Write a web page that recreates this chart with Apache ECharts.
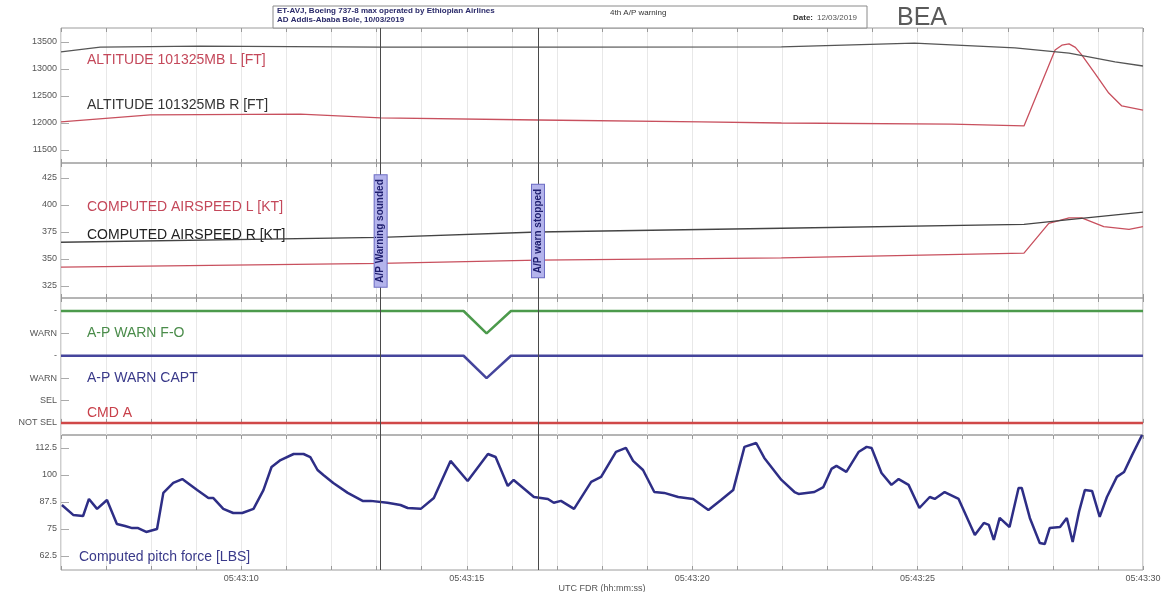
<!DOCTYPE html>
<html>
<head>
<meta charset="utf-8">
<title>ET-AVJ 4th A/P warning</title>
<script src="https://cdn.jsdelivr.net/npm/echarts@6/dist/echarts.min.js"></script>
<style>
    html, body { margin: 0; padding: 0; background: #fff; }
    #fdrCharts { width: 1164px; height: 592px; }
</style>
</head>
<body>
<div id="fdrCharts"></div>
<script>
    // time = seconds after 05:43:00 UTC
    const altLTime = [6, 7.98, 11.31, 13.09, 16.58, 20.2, 21.98, 25.76, 27.36, 28.05, 28.2, 28.36, 28.5, 28.64, 28.93, 29.24, 29.53, 30]
    const altL = [12020, 12150, 12165, 12095, 12055, 12020, 12000, 11980, 11945, 13350, 13440, 13465, 13400, 13260, 12925, 12555, 12315, 12240]
    const altRTime = [6, 6.87, 9.09, 13.09, 16.58, 21.98, 24.93, 27.16, 28.36, 29.38, 30]
    const altR = [13315, 13405, 13425, 13405, 13405, 13410, 13480, 13390, 13295, 13130, 13055]

    const casLTime = [6, 13.09, 16.58, 21.98, 27.36, 27.91, 28.36, 28.64, 29.13, 29.69, 30]
    const casL = [342.5, 346, 349, 351, 355.5, 383, 388, 388, 380, 377.5, 380]
    const casRTime = [6, 13.09, 16.58, 21.98, 27.36, 28.36, 30]
    const casR = [365.5, 370, 375, 378.5, 382, 386.5, 393.5]

    const warnTime = [6, 14.93, 15.44, 15.98, 30]
    const warnFO = [5, 5, 4, 5, 5]
    const warnCapt = [3, 3, 2, 3, 3]
    const cmdA = [0, 0, 0, 0, 0]

    const pitchTime = [6.02, 6.27, 6.49, 6.62, 6.8, 7.02, 7.24, 7.42, 7.58, 7.71, 7.89, 8.13, 8.27, 8.49, 8.69, 9.02, 9.27, 9.38, 9.6, 9.82,
        10.02, 10.27, 10.49, 10.67, 10.87, 11.16, 11.38, 11.53, 11.69, 11.82, 12.04, 12.36, 12.69, 12.87, 13.24, 13.53, 13.69, 13.98, 14.27, 14.64,
        15.02, 15.47, 15.64, 15.91, 16.04, 16.49, 16.8, 16.93, 17.09, 17.38, 17.76, 17.98, 18.31, 18.53, 18.69, 18.91, 19.16, 19.38, 19.69, 20.02,
        20.36, 20.64, 20.91, 21.16, 21.42, 21.6, 21.98, 22.27, 22.36, 22.71, 22.91, 23.09, 23.2, 23.42, 23.69, 23.87, 23.98, 24.2, 24.42, 24.58,
        24.8, 25.04, 25.27, 25.38, 25.6, 25.91, 26.27, 26.47, 26.58, 26.69, 26.82, 27.04, 27.24, 27.31, 27.49, 27.71, 27.82, 27.93, 28.16, 28.31,
        28.44, 28.58, 28.71, 28.87, 29.04, 29.2, 29.42, 29.58, 29.76, 29.98]
    const pitchForce = [86.1, 81.5, 81, 88.9, 84.3, 88.4, 77.3, 76.4, 75.4, 75.4, 73.6, 75, 91.7, 96.3, 98.1, 93, 89.3, 89.3, 84.3, 82.4,
        82.4, 84.3, 93, 103.7, 106.9, 109.7, 109.7, 108.3, 102.3, 100, 96.3, 91.7, 88, 88, 87.1, 86.1, 84.7, 84.3, 89.3, 106.5,
        97.2, 109.7, 108.3, 94.9, 97.7, 89.8, 88.9, 87.1, 88, 84.3, 96.8, 99.1, 110.7, 112.5, 106.5, 102.3, 92.1, 91.7, 89.8, 88.9,
        83.8, 88.4, 93, 113, 114.8, 107.9, 97.7, 92.1, 91.2, 92.1, 94.4, 102.8, 104.2, 101.4, 110.6, 113, 112.5, 100.9, 95.4, 98.1,
        95.4, 84.7, 89.8, 88.9, 92.1, 88.9, 72.2, 77.8, 76.9, 69.9, 80.1, 75.9, 94, 94, 80.1, 68.5, 68, 75.4, 75.9, 80.1,
        69, 82.9, 93, 92.6, 80.6, 89.8, 99.1, 101.4, 109.3, 118.5]

    const apWarnStart = 13.09
    const apWarnStop = 16.58

    const altTicks = [11500, 12000, 12500, 13000, 13500]
    const casTicks = [325, 350, 375, 400, 425]
    const discTicks = [0, 1, 2, 3, 4, 5]
    const discLabels = ['NOT SEL', 'SEL', 'WARN', '-', 'WARN', '-']
    const pitchTicks = [62.5, 75, 87.5, 100, 112.5]

    const zip = (t, v) => t.map((x, i) => [x, v[i]])
    const pad = n => (n < 10 ? '0' : '') + n
    const FONT = 'Liberation Sans'

    const grids = [
        {top: 28, height: 135},
        {top: 163, height: 135},
        {top: 298, height: 137},
        {top: 435, height: 135},
    ].map(g => Object.assign({
        left: 61, right: 21, show: true, borderColor: '#9c9c9c', borderWidth: 1, outerBoundsMode: 'none'
    }, g))

    const xAxes = []
    for (let i = 0; i < 4; i++) {
        xAxes.push({
            gridIndex: i, type: 'value', min: 6, max: 30, interval: 1,
            axisLine: {show: false},
            axisTick: {show: true, inside: true, length: 4, lineStyle: {color: '#999'}},
            splitLine: {show: true, lineStyle: {color: '#e8e8e8'}},
            axisLabel: {
                show: i === 3, fontFamily: FONT, fontSize: 9, color: '#555', margin: 4,
                showMaxLabel: true,
                formatter: v => (v % 5 === 0 && v >= 10) ? '05:43:' + pad(v) : ''
            },
            name: i === 3 ? 'UTC FDR (hh:mm:ss)' : '',
            nameLocation: 'middle', nameGap: 14,
            nameTextStyle: {fontFamily: FONT, fontSize: 9, color: '#555'}
        })
    }
    // ticks along the top edge of each panel
    for (let i = 0; i < 4; i++) {
        xAxes.push({
            gridIndex: i, type: 'value', position: 'top', min: 6, max: 30, interval: 1,
            axisLine: {show: false}, splitLine: {show: false}, axisLabel: {show: false},
            axisTick: {show: true, inside: true, length: 4, lineStyle: {color: '#999'}}
        })
    }

    const yAxis = (idx, min, max, ticks, fmt) => ({
        gridIndex: idx, type: 'value', min: min, max: max,
        axisLine: {show: false}, splitLine: {show: false},
        axisTick: {show: true, inside: true, length: 8, customValues: ticks, lineStyle: {color: '#aaa'}},
        axisLabel: {
            customValues: ticks, fontFamily: FONT, fontSize: 9, color: '#555', margin: 4,
            formatter: fmt || (v => String(v))
        }
    })

    const eventLines = {
        silent: true, symbol: 'none', animation: false,
        label: {show: false},
        lineStyle: {color: '#4a4a4a', width: 1, type: 'solid'},
        data: [{xAxis: apWarnStart}, {xAxis: apWarnStop}]
    }

    const line = (name, xi, data, color, width, withEvents) => ({
        name: name, type: 'line', xAxisIndex: xi, yAxisIndex: xi,
        data: data, symbol: 'none', animation: false,
        lineStyle: {color: color, width: width},
        markLine: withEvents ? eventLines : undefined
    })

    const _fdrOption = {
        backgroundColor: '#fff',
        grid: grids,
        xAxis: xAxes,
        yAxis: [
            yAxis(0, 11259, 13759, altTicks),
            yAxis(1, 313.9, 438.9, casTicks),
            yAxis(2, -0.54, 5.58, discTicks, v => discLabels[Math.round(v)]),
            yAxis(3, 56, 118.5, pitchTicks),
        ],
        series: [
            line('ALTITUDE 101325MB L [FT]', 0, zip(altLTime, altL), '#c8505e', 1.3, true),
            line('ALTITUDE 101325MB R [FT]', 0, zip(altRTime, altR), '#555', 1.3, false),
            line('COMPUTED AIRSPEED L [KT]', 1, zip(casLTime, casL), '#c8505e', 1.3, true),
            line('COMPUTED AIRSPEED R [KT]', 1, zip(casRTime, casR), '#444', 1.3, false),
            line('A-P WARN F-O', 2, zip(warnTime, warnFO), '#4c9a4c', 2.5, true),
            line('A-P WARN CAPT', 2, zip(warnTime, warnCapt), '#45459c', 2.5, false),
            line('CMD A', 2, zip(warnTime, cmdA), '#d04848', 2.5, false),
            line('Computed pitch force [LBS]', 3, zip(pitchTime, pitchForce), '#2e2e86', 2.5, true),
        ]
    }

    const chart = echarts.init(document.getElementById('fdrCharts'))
    chart.setOption(_fdrOption)

    const txt = (x, y, text, fill, font, extra) => ({
        type: 'text', x: x, y: y, silent: true,
        style: Object.assign({text: text, fill: fill, font: font, align: 'left', verticalAlign: 'middle'}, extra || {})
    })
    const eventBox = (t, text) => ({
        type: 'text', silent: true, z: 100,
        x: chart.convertToPixel({xAxisIndex: 1}, t), y: 231, rotation: Math.PI / 2,
        style: {
            text: text, fill: '#1e1e6e', font: 'bold 10px ' + FONT, align: 'center', verticalAlign: 'middle',
            backgroundColor: '#b4b4ec', borderColor: '#6c6cc4', borderWidth: 1, padding: [1, 4]
        }
    })

    chart.setOption({
        graphic: [
            // header
            {type: 'rect', silent: true, shape: {x: 273, y: 6, width: 594, height: 22}, style: {fill: '#fff', stroke: '#8a8a8a', lineWidth: 1}},
            txt(277, 11, 'ET-AVJ, Boeing 737-8 max operated by Ethiopian Airlines', '#2a2a6a', 'bold 8px ' + FONT),
            txt(277, 20, 'AD Addis-Ababa Bole, 10/03/2019', '#2a2a6a', 'bold 8px ' + FONT),
            txt(610, 13, '4th A/P warning', '#333', '8px ' + FONT),
            txt(793, 18, 'Date:', '#333', 'bold 8px ' + FONT),
            txt(817, 18, '12/03/2019', '#555', '8px ' + FONT),
            txt(897, 18, 'BEA', '#5a5a5a', '25px ' + FONT),
            // curve labels
            txt(87, 60, 'ALTITUDE 101325MB L [FT]', '#c4485a', '14px ' + FONT),
            txt(87, 105, 'ALTITUDE 101325MB R [FT]', '#333', '14px ' + FONT),
            txt(87, 207, 'COMPUTED AIRSPEED L [KT]', '#c4485a', '14px ' + FONT),
            txt(87, 235, 'COMPUTED AIRSPEED R [KT]', '#222', '14px ' + FONT),
            txt(87, 333, 'A-P WARN F-O', '#4a8c4a', '14px ' + FONT),
            txt(87, 378, 'A-P WARN CAPT', '#3a3a8a', '14px ' + FONT),
            txt(87, 413, 'CMD A', '#c8404a', '14px ' + FONT),
            txt(79, 557, 'Computed pitch force [LBS]', '#3a3a8a', '14px ' + FONT),
            // event boxes
            eventBox(apWarnStart, 'A/P Warning sounded'),
            eventBox(apWarnStop, 'A/P warn stopped'),
        ]
    })

    window.addEventListener('resize', () => chart.resize())
</script>
</body>
</html>
